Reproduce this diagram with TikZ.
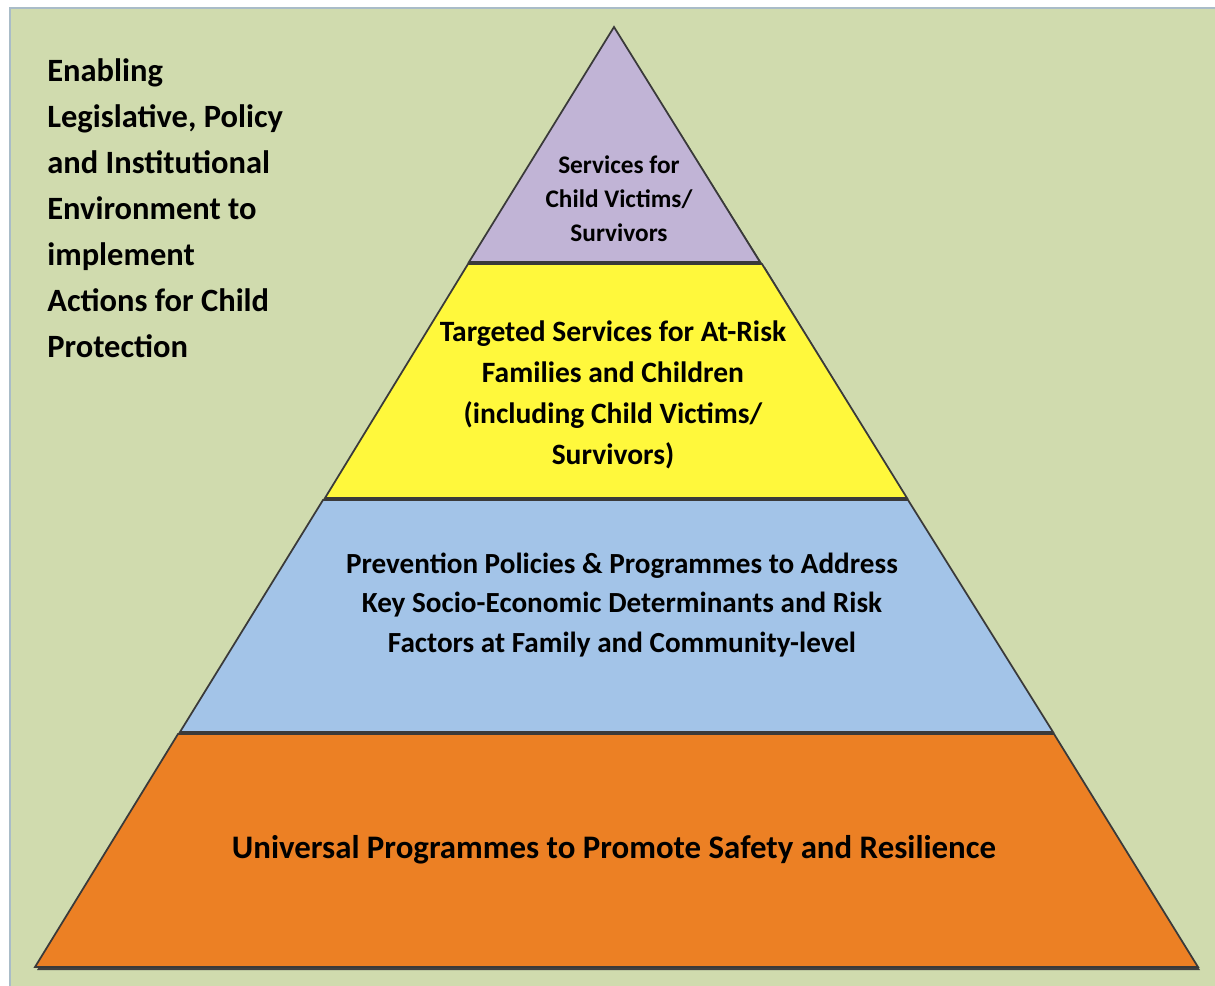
\documentclass[tikz,border=0pt]{standalone}
\usepackage{xcolor}
\usepackage{fontspec}
\setmainfont{Carlito}

\definecolor{bggreen}{HTML}{D0DBAE}
\definecolor{framecol}{HTML}{A9BCC8}
\definecolor{toppurple}{HTML}{C1B4D6}
\definecolor{midyellow}{HTML}{FFF83C}
\definecolor{lowblue}{HTML}{A3C4E8}
\definecolor{baseorange}{HTML}{EC8024}
\definecolor{edgecol}{HTML}{3A3A3A}

\tikzset{
  layer/.style={draw=edgecol, line width=0.35mm, line join=miter},
  shade/.style={fill=black!75},
  tiertext/.style={align=center, text=black, inner sep=0pt}
}

\begin{document}
\begin{tikzpicture}[x=0.2mm, y=-0.2mm]
                \useasboundingbox (0,0) rectangle (1215,986);
                \filldraw[fill=bggreen, draw=framecol, line width=0.3mm] (10,8) rectangle (1240,1010);

                % shadows
                \fill[shade] (616,30) -- (763,265) -- (471,265) -- cycle;
                \fill[shade] (470,267) -- (765,267) -- (909,501) -- (326,501) -- cycle;
                \fill[shade] (324,503) -- (910,503) -- (1055,735) -- (181,735) -- cycle;
                \fill[shade] (179,737) -- (1056,737) -- (1200,970) -- (37,970) -- cycle;

                % layers
                \filldraw[layer, fill=toppurple] (614,27) -- (760,262) -- (469,262) -- cycle;
                \filldraw[layer, fill=midyellow] (468,264) -- (762,264) -- (907,498) -- (325,498) -- cycle;
                \filldraw[layer, fill=lowblue] (323,500) -- (908,500) -- (1053,732) -- (180,732) -- cycle;
                \filldraw[layer, fill=baseorange] (178,734) -- (1054,734) -- (1198,967) -- (35,967) -- cycle;

                \node[tiertext, font=\bfseries\fontsize{18.5}{26.2}\selectfont, align=left, anchor=north west]
                  (enabling) at (47,58) {Enabling\\Legislative, Policy\\and Institutional\\Environment to\\implement\\Actions for Child\\Protection};

                \node[tiertext, font=\bfseries\fontsize{14.4}{19.3}\selectfont] (victims) at (619,199)
                  {Services for\\Child Victims/\\Survivors};
                \node[tiertext, font=\bfseries\fontsize{16.8}{23.2}\selectfont] (targeted) at (613,395)
                  {Targeted Services for At-Risk\\Families and Children\\(including Child Victims/\\Survivors)};
                \node[tiertext, font=\bfseries\fontsize{16.6}{22.7}\selectfont] (prevention) at (622,605)
                  {Prevention Policies \& Programmes to Address\\Key Socio-Economic Determinants and Risk\\Factors at Family and Community-level};
                \node[tiertext, font=\bfseries\fontsize{18.7}{20}\selectfont] (universal) at (614,850)
                  {Universal Programmes to Promote Safety and Resilience};
            \end{tikzpicture}
\end{document}
